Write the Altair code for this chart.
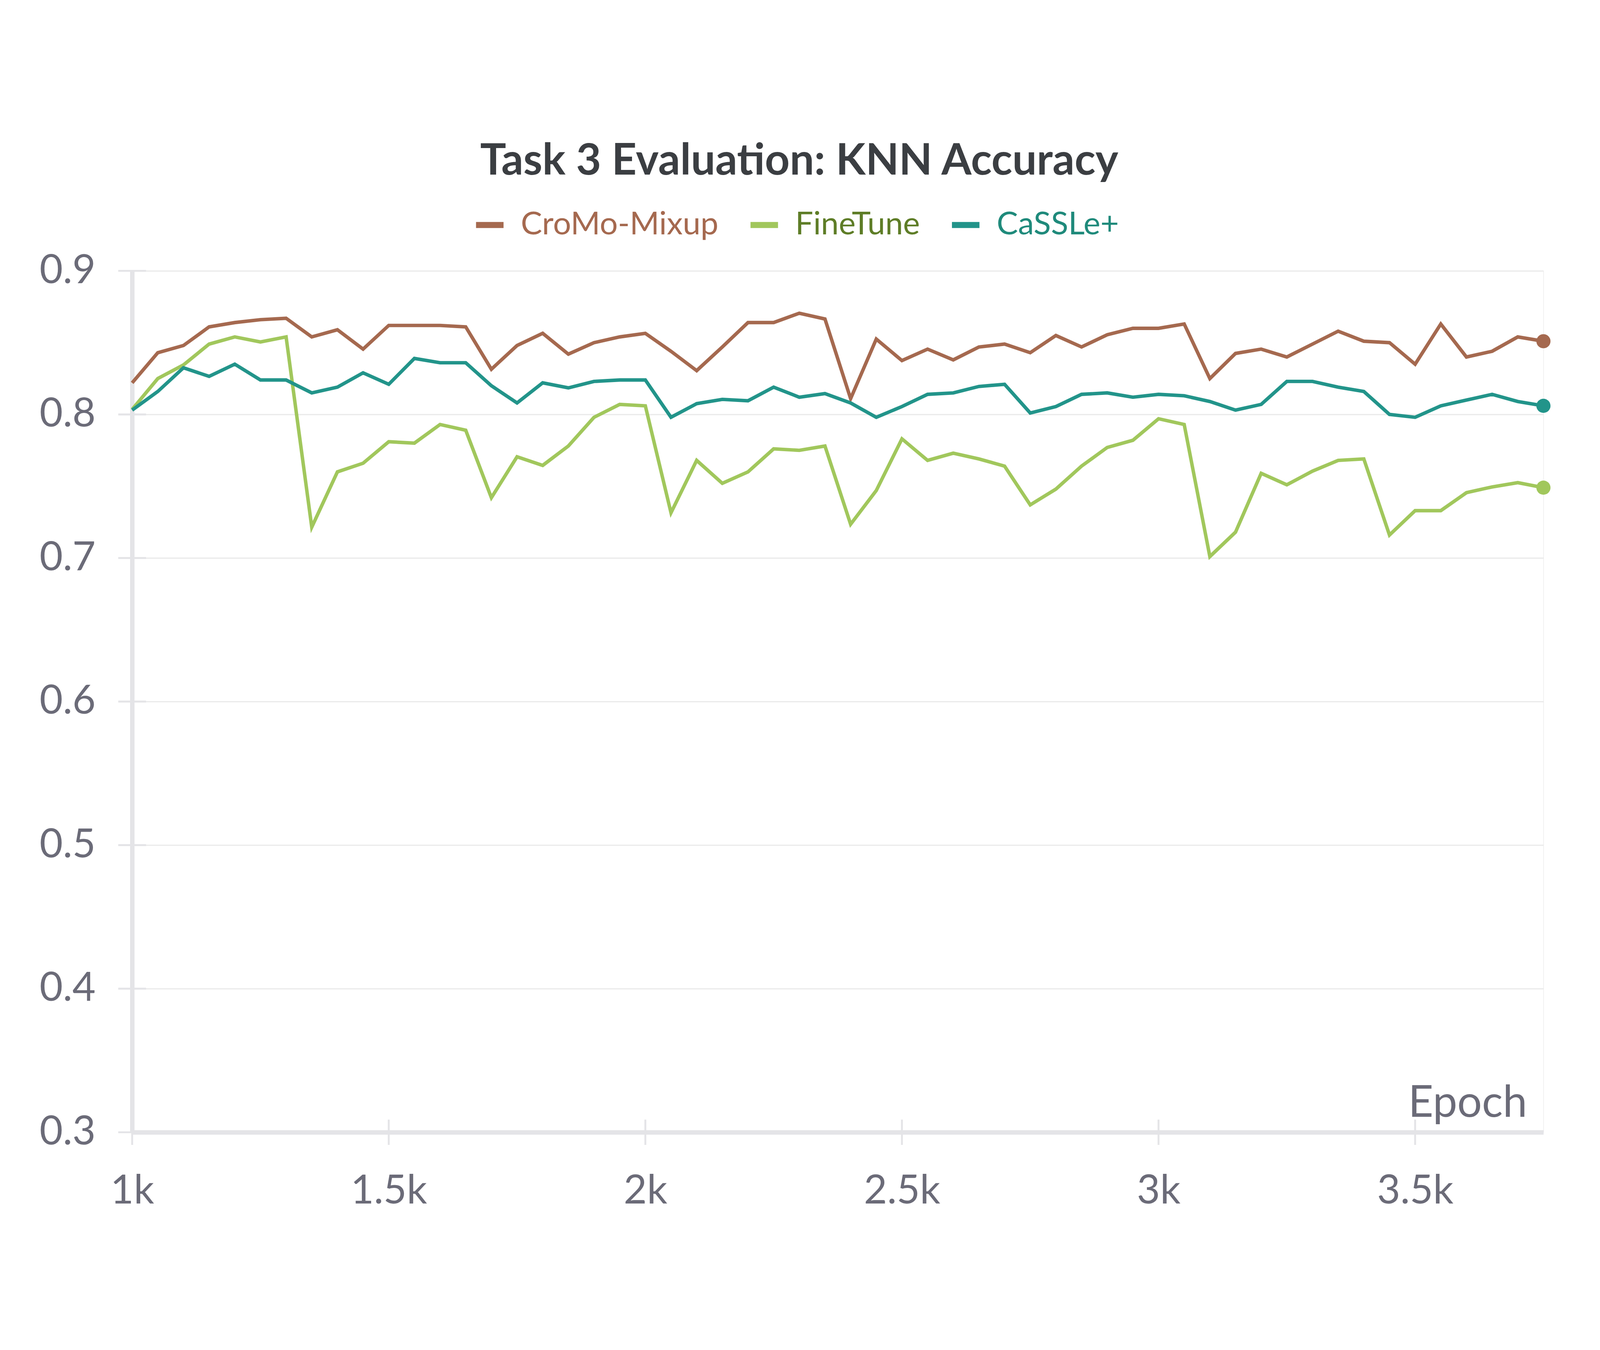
import altair as alt
import pandas as pd

epochs = list(range(1000, 3751, 50))

series_names = ["CroMo-Mixup", "FineTune", "CaSSLe+"]
line_colors = ["#a5694f", "#a1c75c", "#22948a"]
label_colors = ["#a5694f", "#5e7d27", "#1f8a7b"]

cromo = [0.822, 0.843, 0.848, 0.861, 0.864, 0.866, 0.867, 0.854, 0.859, 0.8455,
         0.862, 0.862, 0.862, 0.861, 0.8315, 0.848, 0.8565, 0.842, 0.850, 0.854,
         0.8565, 0.844, 0.8305, 0.847, 0.864, 0.864, 0.8705, 0.8665, 0.811, 0.8525,
         0.8375, 0.8455, 0.838, 0.847, 0.849, 0.843, 0.855, 0.847, 0.8555, 0.860,
         0.860, 0.863, 0.825, 0.8425, 0.8455, 0.840, 0.849, 0.858, 0.851, 0.850,
         0.835, 0.863, 0.840, 0.844, 0.854, 0.851]
finetune = [0.8035, 0.825, 0.8345, 0.849, 0.854, 0.8505, 0.854, 0.7215, 0.760, 0.766,
            0.781, 0.780, 0.793, 0.789, 0.742, 0.7705, 0.7645, 0.778, 0.798, 0.807,
            0.806, 0.7315, 0.768, 0.752, 0.760, 0.776, 0.775, 0.778, 0.7235, 0.747,
            0.783, 0.768, 0.773, 0.769, 0.764, 0.737, 0.748, 0.764, 0.777, 0.782,
            0.797, 0.793, 0.701, 0.718, 0.759, 0.751, 0.7605, 0.768, 0.769, 0.716,
            0.733, 0.733, 0.7455, 0.7495, 0.7525, 0.749]
cassle = [0.803, 0.816, 0.8325, 0.8265, 0.835, 0.824, 0.824, 0.815, 0.819, 0.829,
          0.821, 0.839, 0.836, 0.836, 0.820, 0.808, 0.822, 0.8185, 0.823, 0.824,
          0.824, 0.798, 0.8075, 0.8105, 0.8095, 0.819, 0.812, 0.8145, 0.808, 0.798,
          0.8055, 0.814, 0.815, 0.8195, 0.821, 0.801, 0.8055, 0.814, 0.815, 0.812,
          0.814, 0.813, 0.809, 0.803, 0.807, 0.823, 0.823, 0.819, 0.816, 0.800,
          0.798, 0.806, 0.810, 0.814, 0.809, 0.806]

x_ticks = [1000, 1500, 2000, 2500, 3000, 3500]
y_ticks = [0.3, 0.4, 0.5, 0.6, 0.7, 0.8, 0.9]

rows = []
for name, vals in zip(series_names, [cromo, finetune, cassle]):
    for e, v in zip(epochs, vals):
        rows.append({"Epoch": e, "value": v, "run": name})
df = pd.DataFrame(rows)
last = df[df["Epoch"] == epochs[-1]]

W, H = 4463, 2724
FONT = "Lato"
GRAY = "#6b6b78"
AXIS_GRAY = "#e4e4e7"

label_expr = " : ".join(
    [f"datum.value === '{n}' ? '{c}'" for n, c in zip(series_names[:-1], label_colors[:-1])]
) + f" : '{label_colors[-1]}'"

color_scale = alt.Scale(domain=series_names, range=line_colors)
x_scale = alt.Scale(domain=[1000, 3750], nice=False, zero=False)
y_scale = alt.Scale(domain=[0.3, 0.9], nice=False, zero=False)

x_enc = alt.X(
    "Epoch:Q",
    scale=x_scale,
    axis=alt.Axis(
        values=x_ticks, format="~s", grid=False, ticks=False, labelFlush=False,
        labelLimit=2000, labelFontSize=127, labelFont=FONT, labelColor=GRAY, labelPadding=125,
        domainColor=AXIS_GRAY, domainWidth=14,
        title="Epoch", titleFont=FONT, titleFontSize=138, titleFontWeight="normal",
        titleColor=GRAY, titleX=W - 52, titleY=-50, titleAlign="right",
        titleBaseline="alphabetic",
    ),
)
y_enc = alt.Y(
    "value:Q",
    scale=y_scale,
    axis=alt.Axis(
        values=y_ticks, format=".1f", grid=True, gridColor="#ebebeb", gridWidth=4, ticks=False,
        labelLimit=2000, labelFontSize=127, labelFont=FONT, labelColor=GRAY, labelPadding=116,
        domainColor=AXIS_GRAY, domainWidth=14,
        title=None,
    ),
)

lines = alt.Chart(df).mark_line(strokeWidth=11, strokeJoin="miter").encode(
    x=x_enc,
    y=y_enc,
    color=alt.Color(
        "run:N", scale=color_scale, sort=series_names,
        legend=alt.Legend(
            title=None, orient="none", direction="horizontal",
            legendX=1078, legendY=-198, padding=0, labelLimit=2000,
            symbolType="stroke", symbolSize=7569, symbolStrokeWidth=19,
            labelFont=FONT, labelFontSize=101, labelOffset=45, columnPadding=62,
            labelColor=alt.ExprRef(label_expr),
        ),
    ),
)

dots = alt.Chart(last).mark_circle(size=2000, opacity=1).encode(
    x="Epoch:Q", y="value:Q",
    color=alt.Color("run:N", scale=color_scale, legend=None),
)

xt = pd.DataFrame({"t": x_ticks})
yt = pd.DataFrame({"t": y_ticks})
x_tick_marks = alt.Chart(xt).mark_tick(
    orient="vertical", size=80, thickness=6, color=AXIS_GRAY, opacity=1
).encode(x=alt.X("t:Q", scale=x_scale), y=alt.datum(0.3, scale=y_scale))
y_tick_marks = alt.Chart(yt).mark_tick(
    orient="horizontal", size=88, thickness=6, color=AXIS_GRAY, opacity=1
).encode(y=alt.Y("t:Q", scale=y_scale), x=alt.datum(1000, scale=x_scale))

chart = alt.layer(x_tick_marks, y_tick_marks, lines, dots).properties(
    width=W, height=H,
    title=alt.TitleParams(
        "Task 3 Evaluation: KNN Accuracy", font=FONT, fontSize=137, fontWeight="bold",
        color="#3b3e42", anchor="middle", frame="group", dx=-122, offset=77,
    ),
    autosize=alt.AutoSizeParams(type="none"),
    padding={"left": 408, "top": 442, "right": 169, "bottom": 274},
).configure_view(stroke=None).configure(background="white")

chart.save("out.html", embed_options={"renderer": "svg", "actions": False})
